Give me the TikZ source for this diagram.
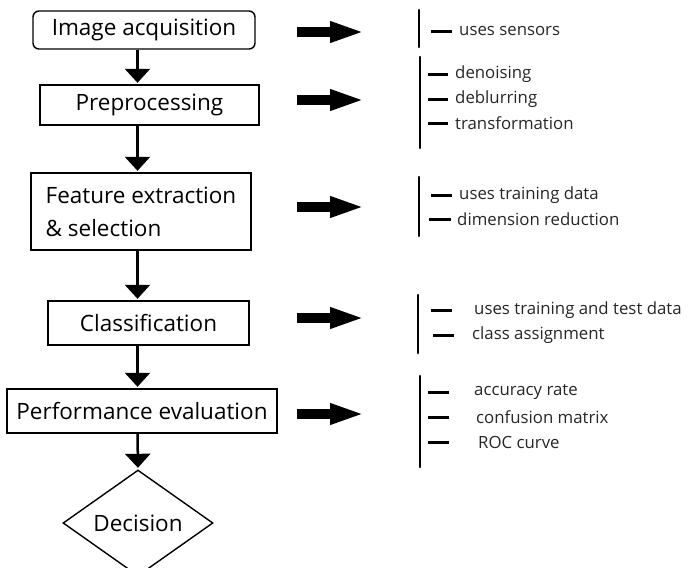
\documentclass[tikz,border=0pt]{standalone}
\usepackage{fontspec}
\setmainfont{Open Sans}
\usetikzlibrary{arrows.meta,shapes.geometric}
\begin{document}
\begin{tikzpicture}[x=1pt,y=-1pt,
  box/.style={draw=black,line width=1.4pt,inner sep=0pt,font=\fontsize{22.5}{33}\selectfont},
  flow/.style={line width=2.5pt,-{Triangle[width=25pt,length=14pt]},shorten >=1.5pt},
  fat/.style={line width=10pt,-{Triangle[width=19pt,length=35pt]}},
  brk/.style={line width=2.5pt,line cap=round},
  dsh/.style={line width=3pt},
  item/.style={anchor=west,inner sep=0pt,font=\fontsize{16.8}{20}\selectfont,text=black!85}]
\useasboundingbox (0,0) rectangle (689,568);
% flow boxes
\node[box,rounded corners=6pt,minimum width=222pt,minimum height=38pt] (b1) at (144,30) {Image acquisition};
\node[box,minimum width=219pt,minimum height=40pt] (b2) at (149.5,105) {Preprocessing};
\node[box,minimum width=220pt,minimum height=77pt,align=left] (b3) at (141,211.5) {Feature extraction\\\& selection};
\node[box,minimum width=201pt,minimum height=44pt] (b4) at (148.5,323) {Classification};
\node[box,minimum width=270pt,minimum height=44pt] (b5) at (142,411) {Performance evaluation};
\node[box,diamond,minimum width=150pt,minimum height=90pt] (d) at (138,523) {Decision};
% vertical arrows
\coordinate (ax) at (137.5,0);
\draw[flow] (b1.south -| ax) -- (b2.north -| ax);
\draw[flow] (b2.south -| ax) -- (b3.north -| ax);
\draw[flow] (b3.south -| ax) -- (b4.north -| ax);
\draw[flow] (b4.south -| ax) -- (b5.north -| ax);
\draw[flow] (b5.south -| ax) -- (d.north);
% fat arrows
\foreach \i/\y in {1/32,2/100,3/207,4/318,5/414}{
  \coordinate (fs\i) at (297,\y);
  \coordinate (fe\i) at (365,\y);
  \draw[fat] (fs\i) -- (fe\i);
}
% bracket 1
\coordinate (k1a) at (419,10); \coordinate (k1b) at (419,47);
\draw[brk] (k1a) -- (k1b);
\coordinate (e1a) at (431,31); \coordinate (e1b) at (452,31);
\draw[dsh] (e1a) -- (e1b);
\node[item] (t1) at (459,31) {uses sensors};
% bracket 2
\coordinate (k2a) at (420,57); \coordinate (k2b) at (420,148);
\draw[brk] (k2a) -- (k2b);
\foreach \n/\y/\t in {a/74/denoising,b/99/deblurring,c/123/transformation}{
  \coordinate (e2\n1) at (428,\y); \coordinate (e2\n2) at (448,\y);
  \draw[dsh] (e2\n1) -- (e2\n2);
  \node[item] (t2\n) at (455,\y) {\t};
}
% bracket 3
\coordinate (k3a) at (419,177); \coordinate (k3b) at (419,236);
\draw[brk] (k3a) -- (k3b);
\coordinate (e3a1) at (431,195); \coordinate (e3a2) at (452,195);
\coordinate (e3b1) at (429,219); \coordinate (e3b2) at (451,219);
\draw[dsh] (e3a1) -- (e3a2);
\draw[dsh] (e3b1) -- (e3b2);
\node[item] (t3a) at (459,195) {uses training data};
\node[item] (t3b) at (457,219) {dimension reduction};
% bracket 4
\coordinate (k4a) at (418,295); \coordinate (k4b) at (418,353);
\draw[brk] (k4a) -- (k4b);
\coordinate (e4a1) at (431,310); \coordinate (e4a2) at (452,310);
\coordinate (e4b1) at (433,335); \coordinate (e4b2) at (454,335);
\draw[dsh] (e4a1) -- (e4a2);
\draw[dsh] (e4b1) -- (e4b2);
\node[item] (t4a) at (474,310) {uses training and test data};
\node[item] (t4b) at (472,335) {class assignment};
% bracket 5
\coordinate (k5a) at (420,376); \coordinate (k5b) at (420,467);
\draw[brk] (k5a) -- (k5b);
\foreach \n/\y/\x/\t in {a/392/474/accuracy rate,b/417/476/confusion matrix,c/442/478/ROC curve}{
  \coordinate (e5\n1) at (428,\y); \coordinate (e5\n2) at (449,\y);
  \draw[dsh] (e5\n1) -- (e5\n2);
  \node[item] (t5\n) at (\x,\y) {\t};
}
\end{tikzpicture}
\end{document}
